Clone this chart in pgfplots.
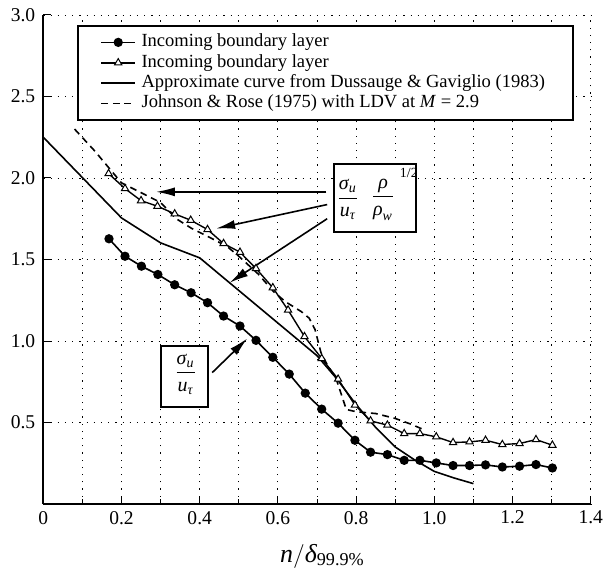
\documentclass[border=0pt]{standalone}
\usepackage{amsmath}
\usepackage{fontspec}
\setmainfont{Liberation Serif}
\setsansfont{Liberation Serif}
\usepackage{pgfplots}
\pgfplotsset{compat=1.18}
\usetikzlibrary{arrows.meta}
\newcommand{\ti}[1]{\textit{#1}}
\begin{document}
\begin{tikzpicture}
\begin{axis}[
  scale only axis, width=273.7bp, height=244.5bp,
  xmin=0, xmax=1.4, ymin=0, ymax=3,
  axis x line*=bottom, axis y line*=left,
  xtick={0,0.2,0.4,0.6,0.8,1.0,1.2,1.4},
  minor xtick={0.1,0.3,0.5,0.7,0.9,1.1,1.3},
  xticklabels={0,0.2,0.4,0.6,0.8,1.0,1.2,1.4},
  ytick={0,0.5,1,1.5,2,2.5,3},
  yticklabels={,0.5,1.0,1.5,2.0,2.5,3.0},
  grid=both,
  major grid style={black, line width=0.45bp, dash pattern=on 0.6bp off 3bp},
  minor grid style={black, line width=0.45bp, dash pattern=on 0.6bp off 3bp},
  tick align=inside, major tick length=4bp, minor tick length=2.5bp,
  tick style={black, line width=0.5bp},
  axis line style={line width=1bp},
  ticklabel style={font=\rmfamily\fontsize{9.8}{11}\selectfont},
  yticklabel style={xshift=-0.5bp},
  /pgf/number format/assume math mode=true,
  xlabel={$\ti{n}/\ti{δ}_{\text{99.9\%}}$},
  xlabel style={font=\rmfamily\fontsize{13}{15}\selectfont, at={(axis description cs:0.51,0)}, anchor=north, yshift=-16.5bp},
  legend style={at={(axis cs:0.086,2.94)}, anchor=north west, draw=black, line width=1bp,
    fill=white, font=\rmfamily\fontsize{9.3}{10}\selectfont, inner xsep=11.25bp, inner ysep=3.2bp,
    nodes={inner xsep=2.75bp, inner ysep=0.5bp, text height=6.8bp, text depth=2.4bp}, cells={anchor=west}},
  legend image post style={line width=0.8bp},
  clip=false,
]
\coordinate (sw) at (rel axis cs:0,0);
\coordinate (ne) at (rel axis cs:1,1);

\addplot[black, line width=0.8bp, mark=*, mark size=1.9bp] coordinates {
(0.168,1.627)(0.209,1.520)(0.251,1.459)(0.293,1.408)(0.336,1.345)(0.378,1.296)
(0.420,1.235)(0.461,1.153)(0.503,1.092)(0.544,1.004)(0.587,0.900)(0.629,0.797)
(0.670,0.680)(0.712,0.582)(0.754,0.496)(0.797,0.391)(0.837,0.318)(0.880,0.303)
(0.923,0.268)(0.963,0.268)(1.005,0.252)(1.048,0.236)(1.090,0.236)(1.131,0.240)
(1.174,0.227)(1.218,0.232)(1.260,0.242)(1.302,0.221)};
\addlegendentry{Incoming boundary layer}

\addplot[black, line width=0.7bp, mark=triangle*, mark options={fill=white, line width=0.5bp}, mark size=2.1bp] coordinates {
(0.167,2.027)(0.209,1.935)(0.250,1.861)(0.292,1.827)(0.336,1.780)(0.377,1.741)
(0.420,1.684)(0.461,1.598)(0.503,1.545)(0.544,1.445)(0.587,1.327)(0.626,1.190)
(0.668,1.027)(0.712,0.893)(0.754,0.766)(0.797,0.607)(0.837,0.510)(0.880,0.484)
(0.923,0.432)(0.963,0.432)(1.005,0.412)(1.048,0.377)(1.090,0.381)(1.131,0.391)
(1.174,0.365)(1.218,0.371)(1.260,0.395)(1.302,0.361)};
\addlegendentry{Incoming boundary layer}

\addplot[black, line width=0.8bp] coordinates {
(0,2.25)(0.2,1.755)(0.3,1.602)(0.4,1.51)(0.5,1.31)(0.6,1.11)(0.7,0.91)
(0.75,0.77)(0.8,0.61)(0.85,0.47)(0.9,0.35)(0.95,0.27)(1.0,0.20)(1.05,0.16)(1.1,0.125)};
\addlegendentry{Approximate curve from Dussauge \& Gaviglio (1983)}

\addplot[black, line width=0.8bp, dash pattern=on 3.4bp off 2.4bp] coordinates {
(0.08,2.30)(0.13,2.17)(0.2,1.97)(0.25,1.91)(0.3,1.85)(0.34,1.75)(0.38,1.69)
(0.43,1.63)(0.47,1.58)(0.50,1.52)(0.55,1.41)(0.59,1.30)(0.62,1.24)(0.66,1.18)
(0.68,1.14)(0.695,1.07)(0.71,0.93)(0.725,0.86)(0.75,0.76)(0.775,0.58)(0.80,0.566)
(0.85,0.555)(0.90,0.525)(0.94,0.49)(0.976,0.453)};
\addlegendentry{Johnson \& Rose (1975) with LDV at \ti{M} = 2.9}

% annotation box 1
\node[draw, line width=1bp, fill=white, minimum width=41bp, minimum height=34bp, inner sep=0pt] at (axis cs:0.848,1.877) {};
\node[font=\rmfamily\fontsize{10}{12}\selectfont, inner sep=0pt] at (axis cs:0.779,1.866) {$\dfrac{\ti{σ}_{\ti{u}}}{\ti{u}_{\ti{τ}}}$};
\node[font=\rmfamily\fontsize{10}{12}\selectfont, inner sep=0pt] at (axis cs:0.869,1.866) {$\dfrac{\ti{ρ}}{\ti{ρ}_{\ti{w}}}$};
\node[font=\rmfamily\fontsize{7}{8}\selectfont, inner sep=0pt] at (axis cs:0.935,2.03) {1/2};
\draw[line width=0.8bp, -{Latex[length=9.5bp, width=4.5bp]}] (axis cs:0.724,1.915) -- (axis cs:0.288,1.915);
\draw[line width=0.8bp, -{Latex[length=9.5bp, width=4.5bp]}] (axis cs:0.726,1.837) -- (axis cs:0.442,1.69);
\draw[line width=0.8bp, -{Latex[length=9.5bp, width=4.5bp]}] (axis cs:0.726,1.75) -- (axis cs:0.476,1.357);

% annotation box 2
\node[draw, line width=1bp, fill=white, minimum width=23.8bp, minimum height=30.8bp, inner sep=0pt] at (axis cs:0.361,0.782) {};
\node[font=\rmfamily\fontsize{10}{12}\selectfont, inner sep=0pt] at (axis cs:0.364,0.797) {$\dfrac{\ti{σ}_{\ti{u}}}{\ti{u}_{\ti{τ}}}$};
\draw[line width=0.8bp, -{Latex[length=9.5bp, width=4.5bp]}] (axis cs:0.432,0.806) -- (axis cs:0.522,1.016);
\end{axis}
\pgfresetboundingbox
\path[use as bounding box] ([shift={(-21.65bp,-35.5bp)}]sw) rectangle ([shift={(8.65bp,7.5bp)}]ne);
\end{tikzpicture}
\end{document}
